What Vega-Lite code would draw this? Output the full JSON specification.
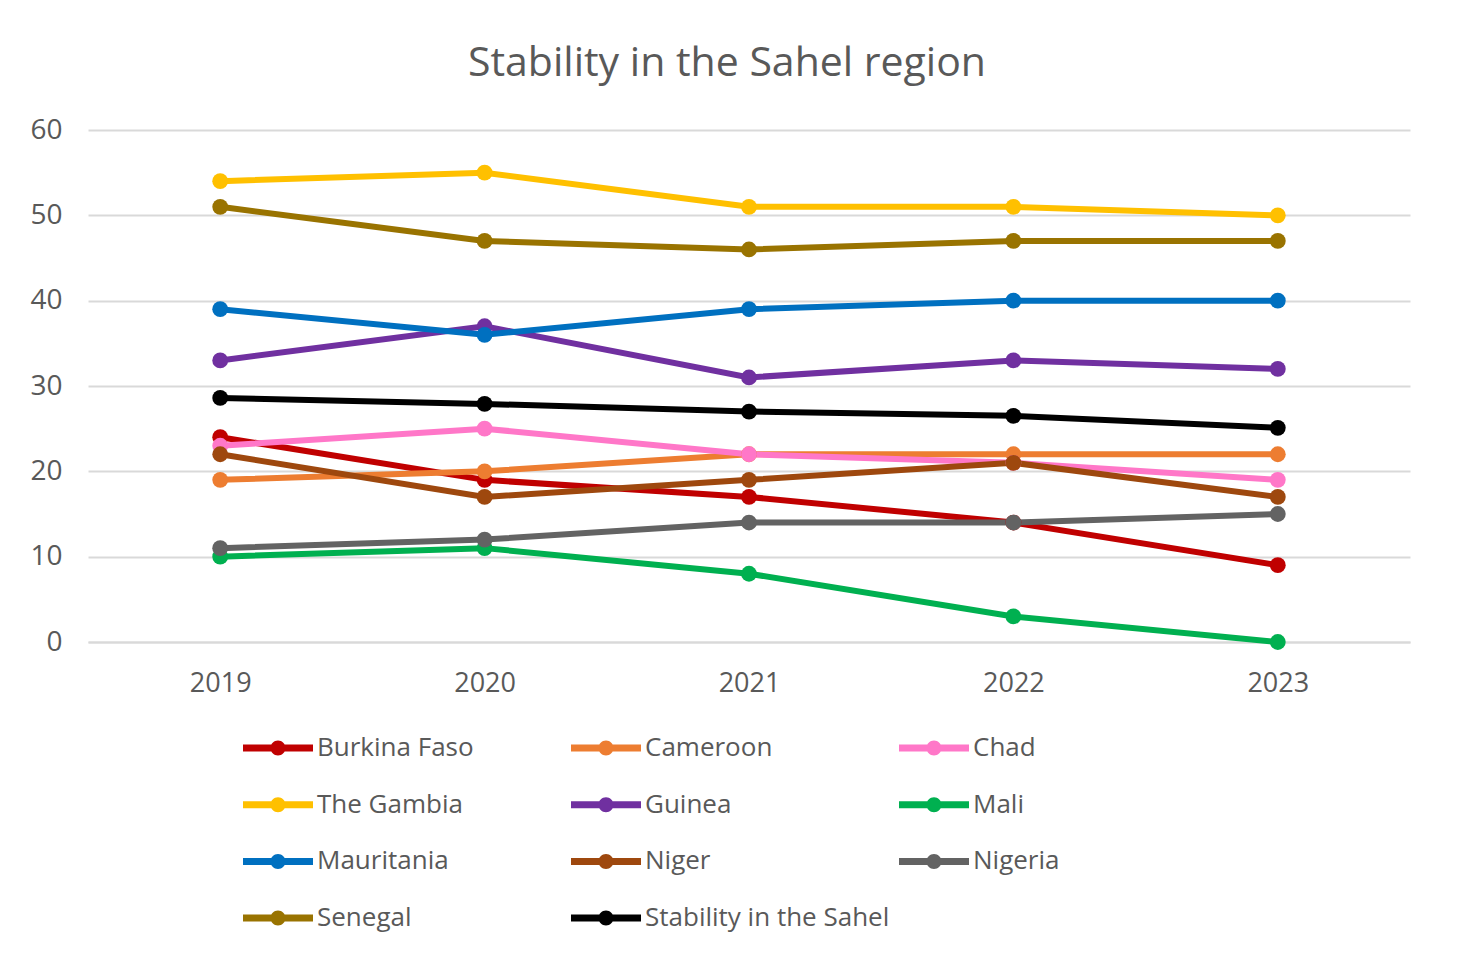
{
  "$schema": "https://vega.github.io/schema/vega-lite/v6.json",
  "width": 1322,
  "height": 512,
  "autosize": {"type": "none"},
  "padding": {"left": 88, "top": 130, "right": 47, "bottom": 313},
  "background": "white",
  "title": {
    "text": "Stability in the Sahel region",
    "fontSize": 41,
    "font": "Open Sans",
    "fontWeight": "normal",
    "color": "#595959",
    "anchor": "middle",
    "baseline": "alphabetic",
    "offset": -1,
    "dx": -22
  },
  "config": {
    "view": {"stroke": null},
    "font": "Open Sans"
  },
  "data": {
    "values": [
      {"year": "2019", "country": "Burkina Faso", "value": 24},
      {"year": "2020", "country": "Burkina Faso", "value": 19},
      {"year": "2021", "country": "Burkina Faso", "value": 17},
      {"year": "2022", "country": "Burkina Faso", "value": 14},
      {"year": "2023", "country": "Burkina Faso", "value": 9},
      {"year": "2019", "country": "Cameroon", "value": 19},
      {"year": "2020", "country": "Cameroon", "value": 20},
      {"year": "2021", "country": "Cameroon", "value": 22},
      {"year": "2022", "country": "Cameroon", "value": 22},
      {"year": "2023", "country": "Cameroon", "value": 22},
      {"year": "2019", "country": "Chad", "value": 23},
      {"year": "2020", "country": "Chad", "value": 25},
      {"year": "2021", "country": "Chad", "value": 22},
      {"year": "2022", "country": "Chad", "value": 21},
      {"year": "2023", "country": "Chad", "value": 19},
      {"year": "2019", "country": "The Gambia", "value": 54},
      {"year": "2020", "country": "The Gambia", "value": 55},
      {"year": "2021", "country": "The Gambia", "value": 51},
      {"year": "2022", "country": "The Gambia", "value": 51},
      {"year": "2023", "country": "The Gambia", "value": 50},
      {"year": "2019", "country": "Guinea", "value": 33},
      {"year": "2020", "country": "Guinea", "value": 37},
      {"year": "2021", "country": "Guinea", "value": 31},
      {"year": "2022", "country": "Guinea", "value": 33},
      {"year": "2023", "country": "Guinea", "value": 32},
      {"year": "2019", "country": "Mali", "value": 10},
      {"year": "2020", "country": "Mali", "value": 11},
      {"year": "2021", "country": "Mali", "value": 8},
      {"year": "2022", "country": "Mali", "value": 3},
      {"year": "2023", "country": "Mali", "value": 0},
      {"year": "2019", "country": "Mauritania", "value": 39},
      {"year": "2020", "country": "Mauritania", "value": 36},
      {"year": "2021", "country": "Mauritania", "value": 39},
      {"year": "2022", "country": "Mauritania", "value": 40},
      {"year": "2023", "country": "Mauritania", "value": 40},
      {"year": "2019", "country": "Niger", "value": 22},
      {"year": "2020", "country": "Niger", "value": 17},
      {"year": "2021", "country": "Niger", "value": 19},
      {"year": "2022", "country": "Niger", "value": 21},
      {"year": "2023", "country": "Niger", "value": 17},
      {"year": "2019", "country": "Nigeria", "value": 11},
      {"year": "2020", "country": "Nigeria", "value": 12},
      {"year": "2021", "country": "Nigeria", "value": 14},
      {"year": "2022", "country": "Nigeria", "value": 14},
      {"year": "2023", "country": "Nigeria", "value": 15},
      {"year": "2019", "country": "Senegal", "value": 51},
      {"year": "2020", "country": "Senegal", "value": 47},
      {"year": "2021", "country": "Senegal", "value": 46},
      {"year": "2022", "country": "Senegal", "value": 47},
      {"year": "2023", "country": "Senegal", "value": 47},
      {"year": "2019", "country": "Stability in the Sahel", "value": 28.6},
      {"year": "2020", "country": "Stability in the Sahel", "value": 27.9},
      {"year": "2021", "country": "Stability in the Sahel", "value": 27},
      {"year": "2022", "country": "Stability in the Sahel", "value": 26.5},
      {"year": "2023", "country": "Stability in the Sahel", "value": 25.1}
    ]
  },
  "encoding": {
    "x": {
      "field": "year",
      "type": "ordinal",
      "scale": {"type": "point", "padding": 0.5},
      "axis": {
        "title": null,
        "labelAngle": 0,
        "labelFontSize": 27,
        "labelColor": "#595959",
        "labelPadding": 28,
        "ticks": false,
        "domain": true,
        "domainColor": "#d9d9d9",
        "domainWidth": 2,
        "grid": false
      }
    },
    "y": {
      "field": "value",
      "type": "quantitative",
      "scale": {"domain": [0, 60], "nice": false},
      "axis": {
        "title": null,
        "values": [0, 10, 20, 30, 40, 50, 60],
        "labelFontSize": 28,
        "labelColor": "#595959",
        "labelPadding": 26,
        "ticks": false,
        "domain": false,
        "grid": true,
        "gridColor": "#d9d9d9",
        "gridWidth": 2
      }
    },
    "color": {
      "field": "country",
      "type": "nominal",
      "scale": {
        "domain": ["Burkina Faso", "Cameroon", "Chad", "The Gambia", "Guinea", "Mali", "Mauritania", "Niger", "Nigeria", "Senegal", "Stability in the Sahel"],
        "range": ["#c00000", "#ed7d31", "#ff77c8", "#ffc000", "#7030a0", "#00b050", "#0070c0", "#9e480e", "#636363", "#997300", "#000000"]
      },
      "legend": {
        "title": null,
        "orient": "none",
        "legendX": 155,
        "legendY": 583,
        "direction": "horizontal",
        "columns": 3,
        "gridAlign": "all",
        "columnPadding": 9,
        "rowPadding": 8.7,
        "labelFontSize": 26,
        "labelLimit": 500,
        "labelColor": "#595959",
        "labelOffset": 4,
        "symbolType": "M-1,-0.1H1V0.1H-1Z M-0.214,0A0.214,0.214 0 1,1 0.214,0A0.214,0.214 0 1,1 -0.214,0Z",
        "symbolSize": 4900,
        "symbolStrokeWidth": 0,
        "encode": {
          "symbols": {
            "update": {
              "fill": {"scale": "color", "field": "value"},
              "stroke": {"value": "transparent"},
              "opacity": {"value": 1}
            }
          }
        }
      }
    }
  },
  "layer": [
    {"mark": {"type": "line", "strokeWidth": 6}},
    {"mark": {"type": "point", "filled": true, "size": 250, "opacity": 1}}
  ]
}
